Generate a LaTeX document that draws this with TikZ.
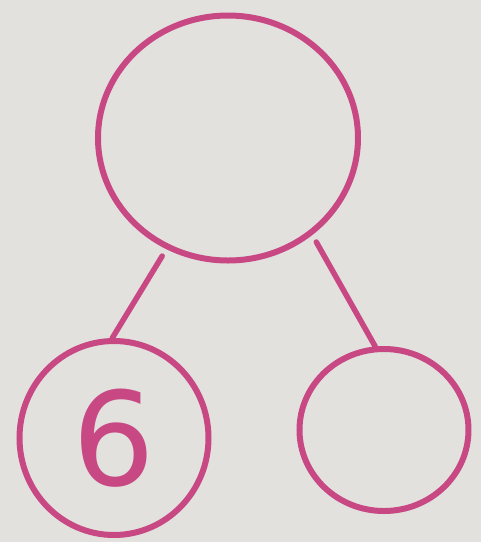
\documentclass[tikz,border=0pt]{standalone}
\usepackage{fontspec}
\setsansfont{DejaVu Sans}
\usepackage{xcolor}
\usepackage{tikz}
\usetikzlibrary{positioning,shapes.geometric}
\definecolor{marker}{RGB}{200,72,132}
\definecolor{paper}{RGB}{226,225,222}
\tikzset{
  whole/.style={ellipse, draw=marker, line width=0.12cm, minimum width=5.2cm, minimum height=4.9cm, inner sep=0pt},
  part/.style={ellipse, draw=marker, line width=0.12cm, inner sep=0pt},
  bond/.style={draw=marker, line width=0.11cm, line cap=round, shorten <=0.16cm},
  num/.style={text=marker, font=\sffamily\fontsize{74}{74}\selectfont}
}

\begin{document}
\begin{tikzpicture}
  % Paper background
  \fill[paper] (0,0) rectangle (9.62,-10.84);
  \useasboundingbox (0,0) rectangle (9.62,-10.84);

  % Whole circle on top
  \node[whole] (top) at (4.56,-2.76) {};

  % Part circles
  \node[part, minimum width=3.78cm, minimum height=3.88cm] (left) at (2.28,-8.76) {};
  \node[part, minimum width=3.38cm, minimum height=3.24cm] (right) at (7.68,-8.6) {};

  % Known part
  \node[num] (six) at (left.center) {6};

  % Bonds
  \draw[bond] (top.241) -- (left.91);
  \draw[bond] (top.311) -- (right.96);
\end{tikzpicture}
\end{document}
